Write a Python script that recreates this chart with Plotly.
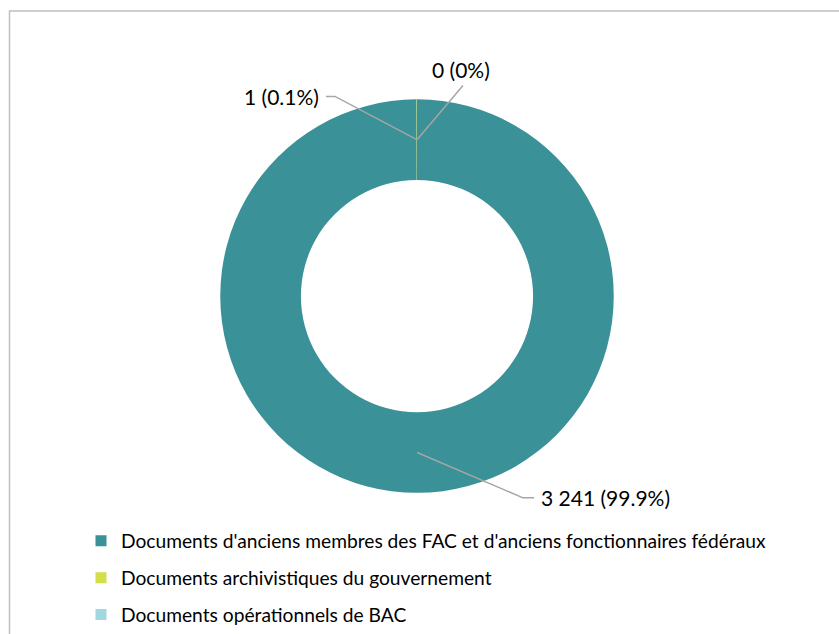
import math
import plotly.graph_objects as go

# --- data -------------------------------------------------------------
categories = [
    "Documents d'anciens membres des FAC et d'anciens fonctionnaires fédéraux",
    "Documents archivistiques du gouvernement",
    "Documents opérationnels de BAC",
]
values = [3241, 1, 0]
pct_labels = ["99.9%", "0.1%", "0%"]
colors = ["#3A9197", "#D2DE4A", "#9FD8DE"]

# --- canvas / donut geometry (pixels) ---------------------------------
W, H = 839, 634
CX, CY, R_OUT = 417, 298, 198
HOLE = 0.59
R_MID = R_OUT * (1 + HOLE) / 2

FONT = "Lato"
LABEL_SIZE = 21
LEGEND_SIZE = 19.2


def px(x):
    return x / W


def py(y):
    return 1 - y / H


fig = go.Figure()

fig.add_trace(go.Pie(
    labels=categories,
    values=values,
    marker=dict(colors=colors, line=dict(width=0)),
    hole=HOLE,
    sort=False,
    direction="clockwise",
    rotation=0,
    textinfo="none",
    hoverinfo="label+value+percent",
    showlegend=False,
    domain=dict(x=[px(CX - R_OUT), px(CX + R_OUT)],
                y=[py(CY + R_OUT), py(CY - R_OUT)]),
))

# legend entries, one per category
for name, col in zip(categories, colors):
    fig.add_trace(go.Scatter(
        x=[None], y=[None], mode="markers", name=name,
        marker=dict(symbol="square", size=11, color=col),
        legendgroup=name, showlegend=True, hoverinfo="skip",
    ))


def fmt_value(v):
    return f"{v:,}".replace(",", " ")


# label placement: (elbow x, elbow y, end x, end y, text anchor)
label_style = [
    dict(elbow=(523, 501), end=(534, 501), xanchor="left", yanchor="middle", dx=5, dy=0),
    dict(elbow=(335, 97), end=(326, 97), xanchor="right", yanchor="middle", dx=-5, dy=0),
    dict(elbow=(463, 86), end=(463, 86), xanchor="center", yanchor="bottom", dx=-2, dy=-1),
]

total = sum(values)
cum = 0.0
shapes = []
annotations = []
for v, pct, st in zip(values, pct_labels, label_style):
    theta = 2 * math.pi * (cum + v / 2) / total
    cum += v
    ax = CX + R_MID * math.sin(theta)
    ay = CY - R_MID * math.cos(theta)
    ex, ey = st["elbow"]
    fx, fy = st["end"]
    path = (f"M {px(ax)} {py(ay)} L {px(ex)} {py(ey)} L {px(fx)} {py(fy)}")
    shapes.append(dict(type="path", xref="paper", yref="paper", path=path,
                       line=dict(color="#A6A6A6", width=1.5)))
    annotations.append(dict(
        xref="paper", yref="paper",
        x=px(fx + st["dx"]), y=py(fy + st["dy"]),
        xanchor=st["xanchor"], yanchor=st["yanchor"],
        text=f"{fmt_value(v)} ({pct})", showarrow=False,
        font=dict(family=FONT, size=LABEL_SIZE, color="#000000"),
    ))

# chart frame
shapes.append(dict(type="rect", xref="paper", yref="paper",
                   x0=px(9.5), y0=-0.05, x1=1.05, y1=py(11),
                   line=dict(color="#BFBFBF", width=1.5), layer="below"))

fig.update_layout(
    width=W, height=H,
    margin=dict(l=0, r=0, t=0, b=0),
    paper_bgcolor="white", plot_bgcolor="white",
    xaxis=dict(visible=False), yaxis=dict(visible=False),
    shapes=shapes, annotations=annotations,
    showlegend=True,
    legend=dict(
        x=px(81), y=py(525), xanchor="left", yanchor="top",
        orientation="v", tracegroupgap=9,
        font=dict(family=FONT, size=LEGEND_SIZE, color="#000000"),
        bgcolor="rgba(0,0,0,0)", borderwidth=0,
    ),
    font=dict(family=FONT),
)

fig.write_html("out.html")
